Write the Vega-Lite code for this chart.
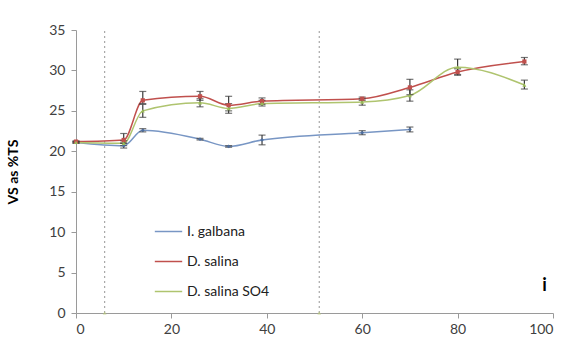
{
  "$schema": "https://vega.github.io/schema/vega-lite/v6.json",
  "autosize": "none",
  "width": 477,
  "height": 283,
  "padding": {"left": 76, "top": 30, "right": 20, "bottom": 33},
  "background": "white",
  "title": {"text": "Days", "fontSize": 14, "fontWeight": "bold", "font": "Lato", "color": "#000000", "offset": 25, "anchor": "middle", "dx": -30},
  "config": {
    "view": {"stroke": null},
    "axis": {"labelFont": "Lato", "labelFontSize": 14, "labelColor": "#404040", "domainColor": "#9a9a9a", "tickColor": "#9a9a9a", "grid": false, "titleFont": "Lato", "titleFontSize": 14, "titleFontWeight": "bold", "titleColor": "#000000"},
    "legend": {"labelFont": "Lato", "labelFontSize": 14, "labelColor": "#202020"}
  },
  "datasets": {
    "main": [
      {"series": "I. galbana", "day": 0, "vs": 21.1, "lo": 21.0, "hi": 21.2},
      {"series": "I. galbana", "day": 10, "vs": 20.7, "lo": 20.4, "hi": 21.0},
      {"series": "I. galbana", "day": 14, "vs": 22.6, "lo": 22.4, "hi": 22.8},
      {"series": "I. galbana", "day": 26, "vs": 21.5, "lo": 21.4, "hi": 21.6},
      {"series": "I. galbana", "day": 32, "vs": 20.6, "lo": 20.5, "hi": 20.7},
      {"series": "I. galbana", "day": 39, "vs": 21.4, "lo": 20.8, "hi": 22.0},
      {"series": "I. galbana", "day": 60, "vs": 22.3, "lo": 22.05, "hi": 22.55},
      {"series": "I. galbana", "day": 70, "vs": 22.7, "lo": 22.4, "hi": 23.0},
      {"series": "D. salina", "day": 0, "vs": 21.2, "lo": 21.1, "hi": 21.3},
      {"series": "D. salina", "day": 10, "vs": 21.4, "lo": 21.0, "hi": 22.2},
      {"series": "D. salina", "day": 14, "vs": 26.3, "lo": 25.9, "hi": 27.4},
      {"series": "D. salina", "day": 26, "vs": 26.8, "lo": 26.3, "hi": 27.4},
      {"series": "D. salina", "day": 32, "vs": 25.7, "lo": 25.0, "hi": 26.8},
      {"series": "D. salina", "day": 39, "vs": 26.2, "lo": 25.8, "hi": 26.6},
      {"series": "D. salina", "day": 60, "vs": 26.5, "lo": 26.3, "hi": 26.7},
      {"series": "D. salina", "day": 70, "vs": 27.9, "lo": 27.0, "hi": 28.9},
      {"series": "D. salina", "day": 80, "vs": 29.8, "lo": 29.4, "hi": 30.2},
      {"series": "D. salina", "day": 94, "vs": 31.1, "lo": 30.7, "hi": 31.6},
      {"series": "D. salina SO4", "day": 0, "vs": 21.1, "lo": 21.0, "hi": 21.2},
      {"series": "D. salina SO4", "day": 10, "vs": 21.0, "lo": 20.7, "hi": 21.3},
      {"series": "D. salina SO4", "day": 14, "vs": 25.0, "lo": 24.2, "hi": 25.8},
      {"series": "D. salina SO4", "day": 26, "vs": 26.0, "lo": 25.5, "hi": 26.5},
      {"series": "D. salina SO4", "day": 32, "vs": 25.3, "lo": 24.7, "hi": 25.9},
      {"series": "D. salina SO4", "day": 39, "vs": 25.9, "lo": 25.6, "hi": 26.3},
      {"series": "D. salina SO4", "day": 60, "vs": 26.1, "lo": 25.7, "hi": 26.5},
      {"series": "D. salina SO4", "day": 70, "vs": 26.9, "lo": 26.2, "hi": 27.6},
      {"series": "D. salina SO4", "day": 80, "vs": 30.4, "lo": 29.5, "hi": 31.4},
      {"series": "D. salina SO4", "day": 94, "vs": 28.2, "lo": 27.7, "hi": 28.8}
    ],
    "vlines": [{"day": 6, "top": 35, "bottom": 0}, {"day": 51, "top": 35, "bottom": 0}],
    "note": [{"day": 98.2, "vs": 3.3, "label": "i"}]
  },
  "layer": [
    {
      "data": {"name": "vlines"},
      "mark": {"type": "rule", "color": "#a8a8a8", "strokeDash": [2, 3], "strokeWidth": 1.2},
      "encoding": {
        "x": {"field": "day", "type": "quantitative", "scale": {"domain": [0, 100]}},
        "y": {"field": "bottom", "type": "quantitative"},
        "y2": {"field": "top"}
      }
    },
    {
      "data": {"name": "vlines"},
      "mark": {"type": "point", "shape": "triangle-up", "filled": true, "color": "#b9c97a", "size": 14},
      "encoding": {
        "x": {"field": "day", "type": "quantitative"},
        "y": {"field": "bottom", "type": "quantitative"}
      }
    },
    {
      "data": {"name": "main"},
      "mark": {"type": "line", "interpolate": "monotone", "strokeWidth": 1.5},
      "encoding": {
        "x": {"field": "day", "type": "quantitative", "scale": {"domain": [0, 100]}, "axis": {"values": [0, 20, 40, 60, 80, 100], "title": "Days", "titleY": 40, "titleX": 229, "titleBaseline": "top", "labelPadding": 4, "tickSize": 5}},
        "y": {"field": "vs", "type": "quantitative", "scale": {"domain": [0, 35]}, "axis": {"values": [0, 5, 10, 15, 20, 25, 30, 35], "title": "VS as %TS", "titleX": -56, "labelPadding": 6, "tickSize": 5}},
        "color": {"field": "series", "type": "nominal", "sort": ["I. galbana", "D. salina", "D. salina SO4"],
          "scale": {"domain": ["I. galbana", "D. salina", "D. salina SO4"], "range": ["#7896c4", "#c0504d", "#afc46f"]},
          "legend": {"title": null, "orient": "none", "legendX": 78, "legendY": 187, "symbolType": "stroke", "symbolSize": 750, "symbolStrokeWidth": 1.5, "rowPadding": 8, "labelOffset": 4}}
      }
    },
    {
      "data": {"name": "main"},
      "mark": {"type": "errorbar", "ticks": {"size": 7, "color": "#3a3a3a"}, "color": "#3a3a3a", "thickness": 1.2},
      "encoding": {
        "x": {"field": "day", "type": "quantitative"},
        "y": {"field": "lo", "type": "quantitative", "title": "VS as %TS"},
        "y2": {"field": "hi"}
      }
    },
    {
      "data": {"name": "main"},
      "transform": [{"filter": "datum.series === 'I. galbana'"}],
      "mark": {"type": "point", "shape": "diamond", "filled": true, "size": 14, "color": "#4f6f9f", "opacity": 1},
      "encoding": {
        "x": {"field": "day", "type": "quantitative"},
        "y": {"field": "vs", "type": "quantitative"}
      }
    },
    {
      "data": {"name": "main"},
      "transform": [{"filter": "datum.series === 'D. salina'"}],
      "mark": {"type": "point", "shape": "square", "filled": true, "size": 18, "color": "#c0504d", "opacity": 1},
      "encoding": {
        "x": {"field": "day", "type": "quantitative"},
        "y": {"field": "vs", "type": "quantitative"}
      }
    },
    {
      "data": {"name": "main"},
      "transform": [{"filter": "datum.series === 'D. salina SO4'"}],
      "mark": {"type": "point", "shape": "triangle-up", "filled": true, "size": 16, "color": "#9bbb59", "opacity": 1},
      "encoding": {
        "x": {"field": "day", "type": "quantitative"},
        "y": {"field": "vs", "type": "quantitative"}
      }
    },
    {
      "data": {"name": "note"},
      "mark": {"type": "text", "font": "Lato", "fontSize": 18, "fontWeight": "bold", "color": "#000000"},
      "encoding": {
        "x": {"field": "day", "type": "quantitative"},
        "y": {"field": "vs", "type": "quantitative"},
        "text": {"field": "label"}
      }
    }
  ]
}
